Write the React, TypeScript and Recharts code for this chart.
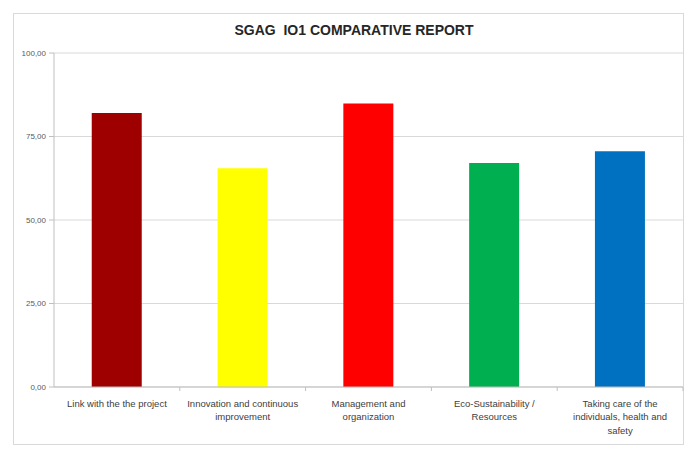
import React from "react";
import { BarChart, Bar, XAxis, YAxis, CartesianGrid, Cell } from "recharts";

const categories = [
  "Link with the the project",
  "Innovation and continuous improvement",
  "Management and organization",
  "Eco-Sustainability / Resources",
  "Taking care of the individuals, health and safety",
];
const categoryLines = [
  ["Link with the the project"],
  ["Innovation and continuous", "improvement"],
  ["Management and", "organization"],
  ["Eco-Sustainability /", "Resources"],
  ["Taking care of the", "individuals, health and", "safety"],
];
const scores = [82.0, 65.5, 84.9, 67.1, 70.6];
const barColors = ["#9E0000", "#FFFF00", "#FF0000", "#00B050", "#0070C0"];
const yTicks = [0, 25, 50, 75, 100];

const data = categories.map((c, i) => ({ category: c, score: scores[i] }));

const FONT = "'Liberation Sans', Arial, sans-serif";

const CategoryTick = (props: any) => {
  const { x, y, payload } = props;
  const idx = payload.index;
  const half = payload.offset || 0;
  const lines = categoryLines[idx] || [payload.value];
  const isLast = idx === categories.length - 1;
  return (
    <g>
      {idx > 0 && <line x1={x - half} x2={x - half} y1={y} y2={y + 4} stroke="#bfbfbf" />}
      {isLast && <line x1={x + half} x2={x + half} y1={y} y2={y + 4} stroke="#bfbfbf" />}
      <text x={x} y={y} textAnchor="middle" fontSize={9.5} fill="#404040" fontFamily={FONT}>
        {lines.map((l: string, i: number) => (
          <tspan key={i} x={x} dy={i === 0 ? 19.5 : 13.5}>
            {l}
          </tspan>
        ))}
      </text>
    </g>
  );
};

export default function App() {
  return (
    <div style={{ position: "absolute", left: 0, top: 0, width: 686, height: 454, background: "#fff", overflow: "hidden" }}>
      <div
        style={{
          position: "absolute",
          left: 13,
          top: 13,
          width: 671,
          height: 432,
          border: "1px solid #d9d9d9",
          boxSizing: "border-box",
        }}
      />
      <div
        style={{
          position: "absolute",
          left: 13,
          top: 22,
          width: 682,
          textAlign: "center",
          fontFamily: FONT,
          fontWeight: "bold",
          fontSize: 14,
          color: "#262626",
          whiteSpace: "pre",
        }}
      >
        {"SGAG  IO1 COMPARATIVE REPORT"}
      </div>
      <div style={{ position: "absolute", left: 0, top: 0 }}>
        <BarChart
          width={686}
          height={454}
          data={data}
          margin={{ top: 53, right: 3, left: 0, bottom: 0 }}
          barCategoryGap="30%"
        >
          <CartesianGrid vertical={false} stroke="#d9d9d9" />
          <XAxis
            dataKey="category"
            interval={0}
            tickLine={false}
            tickSize={0}
            tickMargin={0}
            axisLine={{ stroke: "#bfbfbf" }}
            tick={<CategoryTick />}
            height={67}
          />
          <YAxis
            domain={[0, 100]}
            ticks={yTicks}
            width={54}
            tickSize={5}
            tickMargin={3}
            tickLine={{ stroke: "#bfbfbf" }}
            axisLine={{ stroke: "#bfbfbf" }}
            tick={{ fontSize: 8, fill: "#595959", fontFamily: FONT }}
            tickFormatter={(v: number) => v.toFixed(2).replace(".", ",")}
          />
          <Bar dataKey="score" isAnimationActive={false}>
            {data.map((d, i) => (
              <Cell key={d.category} fill={barColors[i]} />
            ))}
          </Bar>
        </BarChart>
      </div>
    </div>
  );
}
